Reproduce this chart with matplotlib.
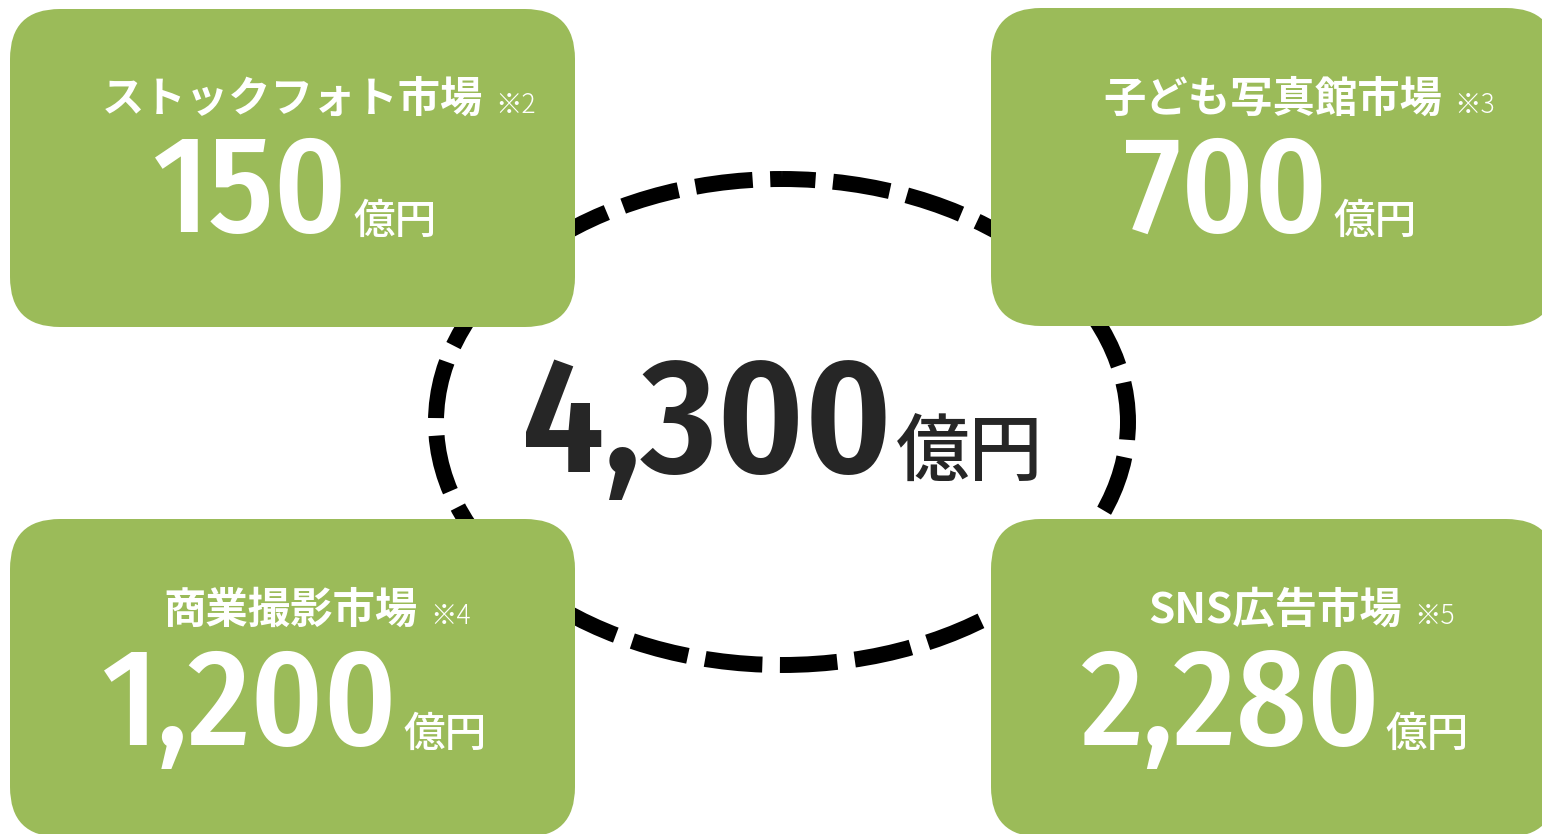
import matplotlib
matplotlib.use("Agg")
import matplotlib.pyplot as plt
from matplotlib.patches import FancyBboxPatch, Ellipse

# ---- data ----
markets = ["ストックフォト市場", "子ども写真館市場", "商業撮影市場", "SNS広告市場"]
notes = ["※2", "※3", "※4", "※5"]
values = [150, 700, 1200, 2280]
total = 4300
unit = "億円"

# ---- layout (pixel coordinates) ----
W, H = 1542, 834
GREEN = "#9BBB59"
DARK = "#262626"
FONT = ["Noto Sans CJK JP", "DejaVu Sans"]
NUMFONT = ["Fira Sans Condensed", "Noto Sans CJK JP", "DejaVu Sans"]

boxes = [(10, 9, 565, 318), (991, 8, 565, 318), (10, 519, 565, 318), (991, 519, 565, 318)]
title_end = [483, 1442, 418, 1402]
title_base = [112, 112, 623, 623]
num_end = [348, 1328, 398, 1380]
num_base = [232, 232, 745, 745]

fig = plt.figure(figsize=(W / 100, H / 100), dpi=100)
ax = fig.add_axes([0, 0, 1, 1])
ax.set_xlim(0, W)
ax.set_ylim(H, 0)
ax.axis("off")

# dashed ellipse
ell = Ellipse((782, 422), 692, 486, fill=False, edgecolor="black",
              linewidth=11.5, linestyle=(1.5, (3.6, 1.1)), capstyle="butt", zorder=1)
ax.add_patch(ell)

for i, (x, y, w, h) in enumerate(boxes):
    ax.add_patch(FancyBboxPatch((x, y), w, h, boxstyle="round,pad=0,rounding_size=50",
                                facecolor=GREEN, edgecolor="none", zorder=2))
    ax.text(title_end[i], title_base[i], markets[i], ha="right", va="baseline",
            fontsize=30.5, fontweight="bold", color="white", family=FONT, zorder=3)
    ax.text(title_end[i] + 12, title_base[i] + 1, notes[i], ha="left", va="baseline",
            fontsize=19, fontweight="light", color="white", family=FONT, zorder=3)
    ax.text(num_end[i], num_base[i], f"{values[i]:,}", ha="right", va="baseline",
            fontsize=99, fontweight=500, color="white", family=NUMFONT, zorder=3)
    ax.text(num_end[i] + 5, num_base[i] + 2, unit, ha="left", va="baseline",
            fontsize=30, fontweight="medium", color="white", family=FONT, zorder=3)

ax.text(892, 472, f"{total:,}", ha="right", va="baseline",
        fontsize=117, fontweight=600, color=DARK, family=NUMFONT, zorder=3)
ax.text(896, 476, unit, ha="left", va="baseline",
        fontsize=53, fontweight="medium", color=DARK, family=FONT, zorder=3)

fig.savefig("out.png", dpi=100, facecolor="white")
